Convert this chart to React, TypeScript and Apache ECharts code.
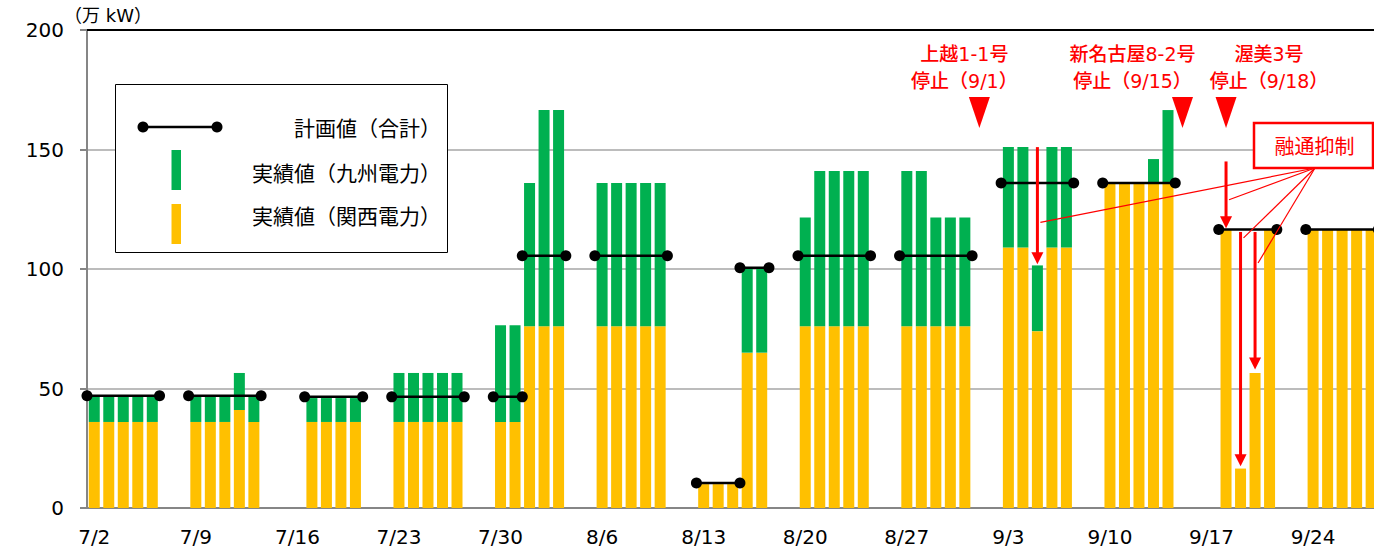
import React, { useEffect, useRef } from 'react';
import * as echarts from 'echarts';

// ---- categories (days from 7/2 to 9/30) ----
const categories: string[] = [];
for (let d = 2; d <= 31; d++) categories.push(`7/${d}`);
for (let d = 1; d <= 31; d++) categories.push(`8/${d}`);
for (let d = 1; d <= 30; d++) categories.push(`9/${d}`);

// ---- actual values (万kW) on days with bars ----
const barDates = [
  '7/2', '7/3', '7/4', '7/5', '7/6',
  '7/9', '7/10', '7/11', '7/12', '7/13',
  '7/17', '7/18', '7/19', '7/20',
  '7/23', '7/24', '7/25', '7/26', '7/27',
  '7/30', '7/31', '8/1', '8/2', '8/3',
  '8/6', '8/7', '8/8', '8/9', '8/10',
  '8/13', '8/14', '8/15', '8/16', '8/17',
  '8/20', '8/21', '8/22', '8/23', '8/24',
  '8/27', '8/28', '8/29', '8/30', '8/31',
  '9/3', '9/4', '9/5', '9/6', '9/7',
  '9/10', '9/11', '9/12', '9/13', '9/14',
  '9/18', '9/19', '9/20', '9/21',
  '9/24', '9/25', '9/26', '9/27', '9/28',
];
const kansai = [
  36, 36, 36, 36, 36,
  36, 36, 36, 41, 36,
  36, 36, 36, 36,
  36, 36, 36, 36, 36,
  36, 36, 76, 76, 76,
  76, 76, 76, 76, 76,
  10, 10, 10, 65, 65,
  76, 76, 76, 76, 76,
  76, 76, 76, 76, 76,
  109, 109, 74, 109, 109,
  136, 136, 136, 136, 136,
  116.5, 16.5, 56.5, 116.5,
  116.5, 116.5, 116.5, 116.5, 116.5,
];
const kyushu = [
  10.5, 10.5, 10.5, 10.5, 10.5,
  10.5, 10.5, 10.5, 15.5, 10.5,
  10, 10, 10, 10,
  20.5, 20.5, 20.5, 20.5, 20.5,
  40.5, 40.5, 60, 90.5, 90.5,
  60, 60, 60, 60, 60,
  0, 0, 0, 35, 35,
  45.5, 65, 65, 65, 65,
  65, 65, 45.5, 45.5, 45.5,
  42, 42, 27.5, 42, 42,
  0, 0, 0, 10, 30.5,
  0, 0, 0, 0,
  0, 0, 0, 0, 0,
];

// ---- plan (total) segments ----
const planStart = ['7/2', '7/9', '7/17', '7/23', '7/30', '8/1', '8/6', '8/13', '8/16', '8/20', '8/27', '9/3', '9/10', '9/18', '9/24'];
const planEnd = ['7/6', '7/13', '7/20', '7/27', '7/31', '8/3', '8/10', '8/15', '8/17', '8/24', '8/31', '9/7', '9/14', '9/21', '9/28'];
const planValue = [47, 47, 46.5, 46.5, 46.5, 105.5, 105.5, 10.5, 100.5, 105.5, 105.5, 136, 136, 116.5, 116.5];

// ---- annotations ----
const stopDates = ['9/1', '9/15', '9/18'];
const stopLine1 = ['上越1-1号', '新名古屋8-2号', '渥美3号'];
const stopLine2 = ['停止（9/1）', '停止（9/15）', '停止（9/18）'];
const stopTextShift = [-15, -50, 43];

const arrowDates = ['9/5', '9/18', '9/19', '9/20'];
const arrowFrom = [151, 145, 115.5, 115.5];
const arrowTo = [102, 117, 17.5, 58];
const calloutValue = [119.5, 129, 113, 102.5];

const LATIN = '"DejaVu Sans", "Noto Sans CJK JP", sans-serif';
const CJK = '"Noto Sans CJK JP", sans-serif';
const RED = '#FF0000';
const YELLOW = '#FFC000';
const GREEN = '#00B050';
const DAY_W = 14.51;

export default function App() {
  const ref = useRef<HTMLDivElement>(null);
  useEffect(() => {
    const chart = echarts.init(ref.current!, null, { renderer: 'svg' });
    const idx = (d: string) => categories.indexOf(d);
    const byDay = (vals: number[]) =>
      categories.map((c) => {
        const i = barDates.indexOf(c);
        return i >= 0 && vals[i] > 0 ? vals[i] : '-';
      });
    const planData: any[] = [];
    planStart.forEach((s, i) => {
      planData.push([idx(s), planValue[i]]);
      planData.push([idx(planEnd[i]) + 1, planValue[i]]);
      planData.push([idx(planEnd[i]) + 1, '-']);
    });

    chart.setOption({
      animation: false,
      backgroundColor: '#fff',
      grid: { left: 87, top: 30, width: categories.length * DAY_W, height: 478 },
      xAxis: [
        {
          type: 'category',
          data: categories,
          boundaryGap: true,
          axisLine: { lineStyle: { color: '#868686', width: 2 } },
          axisTick: { interval: 6, length: 7, lineStyle: { color: '#868686', width: 2 } },
          axisLabel: { interval: 6, margin: 19, fontSize: 20, color: '#000', fontFamily: LATIN },
          splitLine: { show: false },
        },
        {
          type: 'value',
          min: 0,
          max: categories.length,
          position: 'top',
          axisLine: { show: true, onZero: false, lineStyle: { color: '#000', width: 2 } },
          axisTick: { show: false },
          axisLabel: { show: false },
          splitLine: { show: false },
        },
      ],
      yAxis: {
        type: 'value',
        min: 0,
        max: 200,
        interval: 50,
        axisLine: { show: true, lineStyle: { color: '#868686', width: 2 } },
        axisTick: { show: true, length: 7, lineStyle: { color: '#868686', width: 2 } },
        axisLabel: { margin: 23, fontSize: 20, color: '#000', fontFamily: LATIN },
        splitLine: { lineStyle: { color: '#a6a6a6', width: 1.5 } },
      },
      series: [
        {
          name: '実績値（関西電力）',
          type: 'bar',
          stack: 'total',
          data: byDay(kansai),
          barWidth: 11,
          itemStyle: { color: YELLOW },
        },
        {
          name: '実績値（九州電力）',
          type: 'bar',
          stack: 'total',
          data: byDay(kyushu),
          barWidth: 11,
          itemStyle: { color: GREEN },
        },
        {
          name: '計画値（合計）',
          type: 'line',
          xAxisIndex: 1,
          yAxisIndex: 0,
          data: planData,
          symbol: 'circle',
          symbolSize: 11,
          connectNulls: false,
          lineStyle: { color: '#000', width: 2.5 },
          itemStyle: { color: '#000' },
          z: 5,
        },
      ],
    });

    const px = (d: string, v: number, dx = 0) => {
      const p = chart.convertToPixel({ xAxisIndex: 1, yAxisIndex: 0 }, [idx(d) + 0.5 + dx, v]) as number[];
      return p;
    };

    const g: any[] = [];
    const Z = 100;
    // unit label
    g.push({ type: 'text', x: 64, y: 15, z: Z, style: { text: '（万 kW）', fill: '#000', fontSize: 18, fontFamily: LATIN, textAlign: 'left', textVerticalAlign: 'middle' } });
    // legend
    g.push({ type: 'rect', z: Z, shape: { x: 115.5, y: 84.5, width: 332, height: 168 }, style: { fill: '#fff', stroke: '#000', lineWidth: 1 } });
    g.push({ type: 'line', z: Z + 1, shape: { x1: 143, y1: 127, x2: 217, y2: 127 }, style: { stroke: '#000', lineWidth: 2.5 } });
    g.push({ type: 'circle', z: Z + 1, shape: { cx: 143, cy: 127, r: 5.5 }, style: { fill: '#000' } });
    g.push({ type: 'circle', z: Z + 1, shape: { cx: 217, cy: 127, r: 5.5 }, style: { fill: '#000' } });
    g.push({ type: 'rect', z: Z + 1, shape: { x: 171.5, y: 150, width: 9.5, height: 40 }, style: { fill: GREEN } });
    g.push({ type: 'rect', z: Z + 1, shape: { x: 171.5, y: 204, width: 9.5, height: 40 }, style: { fill: YELLOW } });
    const legTexts = ['計画値（合計）', '実績値（九州電力）', '実績値（関西電力）'];
    const legY = [127, 171.5, 215];
    legTexts.forEach((t, i) =>
      g.push({ type: 'text', x: 441, y: legY[i], z: Z + 1, style: { text: t, fill: '#000', fontSize: 21, fontFamily: CJK, textAlign: 'right', textVerticalAlign: 'middle' } })
    );
    // stop annotations
    stopDates.forEach((d, i) => {
      const top = px(d, 172);
      const bot = px(d, 159);
      g.push({ type: 'polygon', z: Z, shape: { points: [[top[0] - 10.5, top[1]], [top[0] + 10.5, top[1]], [bot[0], bot[1]]] }, style: { fill: RED } });
      const tx = top[0] + stopTextShift[i];
      g.push({ type: 'text', x: tx, y: 54, z: Z, style: { text: stopLine1[i], fill: RED, fontSize: 19, fontWeight: 500, fontFamily: LATIN, textAlign: 'center', textVerticalAlign: 'middle' } });
      g.push({ type: 'text', x: tx, y: 81, z: Z, style: { text: stopLine2[i], fill: RED, fontSize: 19, fontWeight: 500, fontFamily: LATIN, textAlign: 'center', textVerticalAlign: 'middle' } });
    });
    // arrows
    arrowDates.forEach((d, i) => {
      const a = px(d, arrowFrom[i]);
      const b = px(d, arrowTo[i]);
      g.push({ type: 'line', z: Z, shape: { x1: a[0], y1: a[1], x2: b[0], y2: b[1] - 10 }, style: { stroke: RED, lineWidth: 3 } });
      g.push({ type: 'polygon', z: Z, shape: { points: [[b[0] - 6, b[1] - 12], [b[0] + 6, b[1] - 12], [b[0], b[1]]] }, style: { fill: RED } });
    });
    // callout box
    const ox = 1315;
    const oy = 168;
    arrowDates.forEach((d, i) => {
      const t = px(d, calloutValue[i]);
      g.push({ type: 'line', z: Z, shape: { x1: ox, y1: oy, x2: t[0] + 3, y2: t[1] }, style: { stroke: RED, lineWidth: 1.2 } });
    });
    g.push({ type: 'rect', z: Z + 1, shape: { x: 1254, y: 123, width: 119, height: 45 }, style: { fill: '#fff', stroke: RED, lineWidth: 2.5 } });
    g.push({ type: 'text', x: 1314.5, y: 145.5, z: Z + 2, style: { text: '融通抑制', fill: RED, fontSize: 20, fontFamily: CJK, textAlign: 'center', textVerticalAlign: 'middle' } });

    chart.setOption({ graphic: g });
    return () => chart.dispose();
  }, []);

  return (
    <div style={{ position: 'fixed', left: 0, top: 0, width: 1374, height: 553, overflow: 'hidden', background: '#fff' }}>
      <div ref={ref} style={{ width: 1420, height: 553 }} />
    </div>
  );
}
